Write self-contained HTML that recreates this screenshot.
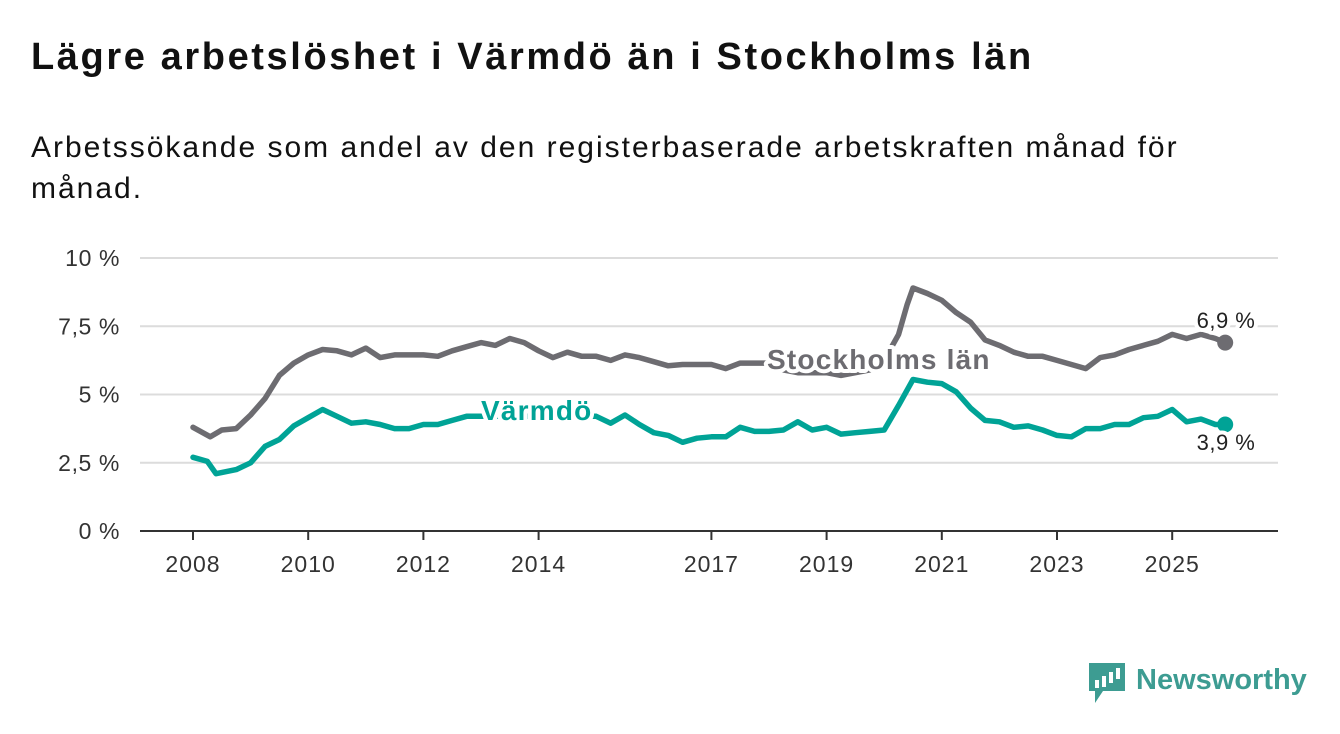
<!DOCTYPE html>
<html><head><meta charset="utf-8"><style>
body{margin:0;background:#fff;font-family:"Liberation Sans","DejaVu Sans",sans-serif;}
#wrap{position:relative;width:1340px;height:734px;overflow:hidden;}
h1{position:absolute;left:31px;top:36px;margin:0;font-size:38px;font-weight:bold;color:#111;letter-spacing:2.6px;white-space:nowrap}
.sub{position:absolute;left:31px;top:127px;width:1200px;font-size:30px;line-height:41px;color:#111;letter-spacing:2px}
svg{position:absolute;left:0;top:0}
</style></head><body>
<div id="wrap">
<h1>Lägre arbetslöshet i Värmdö än i Stockholms län</h1>
<div class="sub">Arbetssökande som andel av den registerbaserade arbetskraften månad för månad.</div>
<svg id="chart" width="1340" height="734"></svg>
</div>
<script>
const yTicks=[0,2.5,5,7.5,10];
const yTickLabels=["0 %","2,5 %","5 %","7,5 %","10 %"];
const xTicks=[2008,2010,2012,2014,2017,2019,2021,2023,2025];
const sthlmDates=[2008,2008.3,2008.5,2008.75,2009,2009.25,2009.5,2009.75,2010,2010.25,2010.5,2010.75,2011,2011.25,2011.5,2011.75,2012,2012.25,2012.5,2012.75,2013,2013.25,2013.5,2013.75,2014,2014.25,2014.5,2014.75,2015,2015.25,2015.5,2015.75,2016,2016.25,2016.5,2016.75,2017,2017.25,2017.5,2017.75,2018,2018.25,2018.5,2018.75,2019,2019.25,2019.5,2019.75,2020,2020.25,2020.4,2020.5,2020.75,2021,2021.25,2021.5,2021.75,2022,2022.25,2022.5,2022.75,2023,2023.25,2023.5,2023.75,2024,2024.25,2024.5,2024.75,2025,2025.25,2025.5,2025.75,2025.92];
const sthlmValues=[3.8,3.45,3.7,3.75,4.25,4.85,5.7,6.15,6.45,6.65,6.6,6.45,6.7,6.35,6.45,6.45,6.45,6.4,6.6,6.75,6.9,6.8,7.05,6.9,6.6,6.35,6.55,6.4,6.4,6.25,6.45,6.35,6.2,6.05,6.1,6.1,6.1,5.95,6.15,6.15,6.15,5.9,5.8,5.8,5.8,5.7,5.8,5.9,6.25,7.2,8.3,8.9,8.7,8.45,8.0,7.65,7.0,6.8,6.55,6.4,6.4,6.25,6.1,5.95,6.35,6.45,6.65,6.8,6.95,7.2,7.05,7.2,7.05,6.9];
const varmdoDates=[2008,2008.25,2008.4,2008.75,2009,2009.25,2009.5,2009.75,2010,2010.25,2010.5,2010.75,2011,2011.25,2011.5,2011.75,2012,2012.25,2012.5,2012.75,2013,2013.5,2014,2014.5,2015,2015.25,2015.5,2015.75,2016,2016.25,2016.5,2016.75,2017,2017.25,2017.5,2017.75,2018,2018.25,2018.5,2018.75,2019,2019.25,2019.5,2019.75,2020,2020.25,2020.5,2020.75,2021,2021.25,2021.5,2021.75,2022,2022.25,2022.5,2022.75,2023,2023.25,2023.5,2023.75,2024,2024.25,2024.5,2024.75,2025,2025.25,2025.5,2025.75,2025.92];
const varmdoValues=[2.7,2.55,2.1,2.25,2.5,3.1,3.35,3.85,4.15,4.45,4.2,3.95,4.0,3.9,3.75,3.75,3.9,3.9,4.05,4.2,4.2,4.2,4.2,4.2,4.2,3.95,4.25,3.9,3.6,3.5,3.25,3.4,3.45,3.45,3.8,3.65,3.65,3.7,4.0,3.7,3.8,3.55,3.6,3.65,3.7,4.6,5.55,5.45,5.4,5.1,4.5,4.05,4.0,3.8,3.85,3.7,3.5,3.45,3.75,3.75,3.9,3.9,4.15,4.2,4.45,4.0,4.1,3.9,3.9];
const NS='http://www.w3.org/2000/svg';
const svg=document.getElementById('chart');
const X=t=>193+(t-2008)*57.6;
const Y=v=>531-v*27.3;
function mk(tag,attrs,parent){const e=document.createElementNS(NS,tag);for(const k in attrs)e.setAttribute(k,attrs[k]);(parent||svg).appendChild(e);return e;}
yTicks.forEach((v,i)=>{
  if(v>0){const g=mk('line',{x1:140,x2:1278,y1:Y(v),y2:Y(v),stroke:'#dcdcdc','stroke-width':2});
  
  }
  const t=mk('text',{x:120,y:Y(v)+8,'text-anchor':'end','font-size':23,'letter-spacing':0.6,fill:'#333'});t.textContent=yTickLabels[i];
  
  
});
const ax=mk('line',{x1:140,x2:1278,y1:531,y2:531,stroke:'#333','stroke-width':2});


xTicks.forEach(yr=>{
  const tk=mk('line',{x1:X(yr),x2:X(yr),y1:531,y2:540,stroke:'#333','stroke-width':2});
  
  
  const t=mk('text',{x:X(yr),y:572,'text-anchor':'middle','font-size':23,'letter-spacing':1,fill:'#333'});t.textContent=yr;
  
  
});
function line(d,v,col,name){
  const p=mk('path',{d:d.map((t,i)=>(i?'L':'M')+X(t).toFixed(1)+','+Y(v[i]).toFixed(1)).join(''),fill:'none',stroke:col,'stroke-width':5.5,'stroke-linejoin':'round','stroke-linecap':'round'});
  
  
  const n=d.length-1;
  const c=mk('circle',{cx:X(d[n]),cy:Y(v[n]),r:8,fill:col});
  
  
}
line(sthlmDates,sthlmValues,'#6d6c71','stockholm-line');
line(varmdoDates,varmdoValues,'#00a396','varmdo-line');
function lab(x,y,txt,col,name,size,bold,anchor,ls){
  const t=mk('text',{x:x,y:y,'font-size':size,'font-weight':bold?'bold':'normal','letter-spacing':ls||0,fill:col,stroke:'#fff','stroke-width':8,'paint-order':'stroke','stroke-linejoin':'round','text-anchor':anchor||'start'});
  t.textContent=txt;
  
  
}
lab(767,369,'Stockholms län','#6d6c71','stockholm-series-label',28,true,'start',1.2);
lab(481,420,'Värmdö','#00a396','varmdo-series-label',28,true,'start',1.2);
const n1=sthlmValues.length-1,n2=varmdoValues.length-1;
lab(1226,328,String(sthlmValues[n1]).replace('.',',')+' %','#222','stockholm-end-value',22,false,'middle',0.5);
lab(1226,450,String(varmdoValues[n2]).replace('.',',')+' %','#222','varmdo-end-value',22,false,'middle',0.5);
const lg=mk('g',{});


mk('path',{d:'M1089 663h36v28h-22l-8 12v-12h-6z',fill:'#3d9c92'},lg);
[[1095,680,4,8],[1102,676,4,12],[1109,672,4,16],[1116,668,4,20]].forEach(r=>mk('rect',{x:r[0],y:r[1],width:r[2],height:Math.min(r[3],11),fill:'#fff'},lg));
const lt=mk('text',{x:1136,y:689,'font-size':29,'font-weight':'bold',fill:'#3d9c92'},lg);lt.textContent='Newsworthy';
</script>
</body></html>
